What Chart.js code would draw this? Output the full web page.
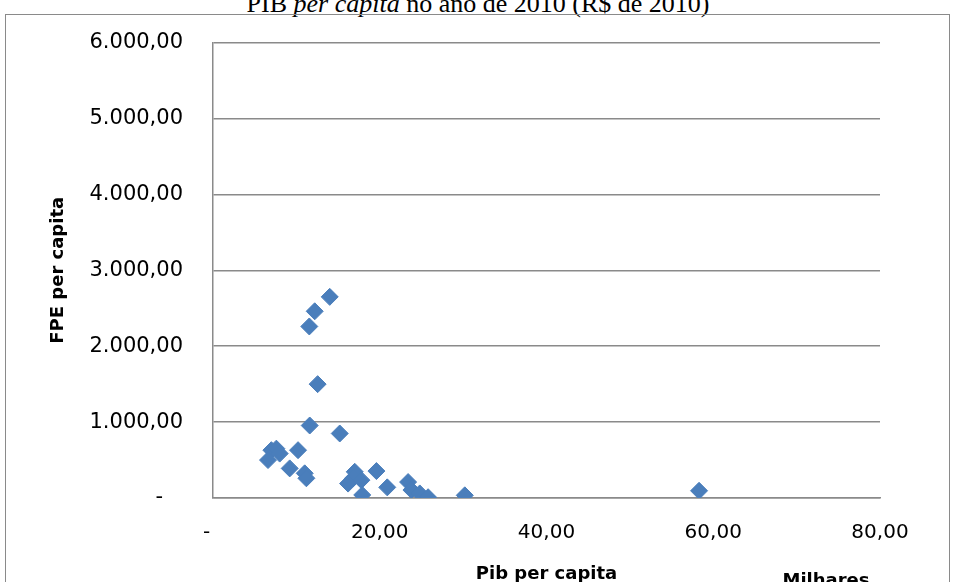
<!DOCTYPE html>
<html>
<head>
<meta charset="utf-8">
<script src="https://cdn.jsdelivr.net/npm/chart.js@4.4.1/dist/chart.umd.min.js"></script>
<style>
  html, body { margin: 0; padding: 0; background: #ffffff; }
  body { width: 956px; height: 582px; position: relative; overflow: hidden; }
  #title { position: absolute; left: 0; top: -9px; width: 956px; text-align: center;
           font-family: "Liberation Serif", "Times New Roman", serif; font-size: 26px; line-height: 26px; color: #000; white-space: nowrap; }
  #frame { position: absolute; left: 5px; top: 14px; width: 945px; height: 600px; border: 1.5px solid #8a8a8a; box-sizing: border-box; pointer-events: none; }
  #wrap { position: absolute; left: 0; top: 0; width: 956px; height: 582px; }
</style>
</head>
<body>
<div id="title">PIB <i>per capita</i> no ano de 2010 (R$ de 2010)</div>
<div id="frame"></div>
<div id="wrap"><canvas id="c" width="956" height="582"></canvas></div>
<script>
// Pib per capita (milhares de R$)
const pibPerCapita = [14.0, 12.2, 11.55, 12.55, 11.6, 15.2, 7.0, 7.6, 6.6, 8.0, 10.2, 9.2, 11.0, 11.2, 17.0, 16.8, 19.6, 16.2, 17.8, 17.9, 20.9, 23.4, 23.8, 24.8, 25.8, 30.2, 58.3];
// FPE per capita (R$)
const fpePerCapita = [2650, 2460, 2260, 1500, 955, 850, 630, 650, 500, 585, 630, 390, 325, 260, 345, 260, 355, 190, 235, 40, 140, 210, 105, 60, 10, 35, 95];
const yTicks = [0, 1000, 2000, 3000, 4000, 5000, 6000];
const xTicks = [0, 20, 40, 60, 80];
const chartTitle = 'PIB per capita no ano de 2010 (R$ de 2010)';
const yTitle = 'FPE per capita';
const xTitle = 'Pib per capita';
const xUnitLabel = 'Milhares';

function fmtBR(v, zeroLabel) {
  if (v === 0) return zeroLabel;
  const fixed = v.toFixed(2);
  let [ip, dp] = fixed.split('.');
  ip = ip.replace(/\B(?=(\d{3})+(?!\d))/g, '.');
  return ip + ',' + dp;
}

const points = pibPerCapita.map((x, i) => ({ x: x, y: fpePerCapita[i] }));

const unitPlugin = {
  id: 'unitLabel',
  afterDraw(chart) {
    const ctx = chart.ctx;
    ctx.save();
    ctx.font = 'bold 18px "DejaVu Sans"';
    ctx.fillStyle = '#000';
    ctx.textAlign = 'center';
    ctx.textBaseline = 'alphabetic';
    ctx.fillText(xUnitLabel, 826, 586);
    ctx.restore();
  }
};

new Chart(document.getElementById('c'), {
  type: 'scatter',
  data: {
    datasets: [{
      label: 'FPE',
      data: points,
      pointStyle: 'rectRot',
      pointRadius: 8.5,
      backgroundColor: '#4a7ebb',
      borderColor: '#4a7ebb',
      borderWidth: 1
    }]
  },
  plugins: [unitPlugin],
  options: {
    responsive: false,
    animation: false,
    devicePixelRatio: 1,
    layout: { padding: { left: 48, top: 39, right: 76, bottom: 0 } },
    plugins: { legend: { display: false }, tooltip: { enabled: false }, title: { display: false } },
    scales: {
      x: {
        type: 'linear', min: 0, max: 80,
        afterBuildTicks: (s) => { s.ticks = xTicks.map(v => ({ value: v })); },
        afterFit: (s) => { s.height = 84; },
        grid: { display: false, drawTicks: false },
        border: { display: true, color: '#8a8a8a', width: 1.5 },
        ticks: { padding: 23, color: '#000', font: { family: 'DejaVu Sans', size: 20 }, maxRotation: 0, callback: (v) => fmtBR(v, '-  ') },
        title: { display: true, text: xTitle, color: '#000', font: { family: 'DejaVu Sans', size: 18, weight: 'bold', lineHeight: 0.8 }, padding: 0 }
      },
      y: {
        type: 'linear', min: 0, max: 6000,
        afterBuildTicks: (s) => { s.ticks = yTicks.map(v => ({ value: v })); },
        afterFit: (s) => { s.width = 165; },
        grid: { display: true, drawTicks: false, color: '#8a8a8a', lineWidth: 1.5 },
        border: { display: true, color: '#8a8a8a', width: 1.5 },
        ticks: { padding: 30, color: '#000', font: { family: 'DejaVu Sans', size: 21 }, callback: (v) => fmtBR(v, '-   ') },
        title: { display: true, text: yTitle, color: '#000', font: { family: 'DejaVu Sans', size: 18, weight: 'bold', lineHeight: 1.2 }, padding: 0 }
      }
    }
  }
});
</script>
</body>
</html>
